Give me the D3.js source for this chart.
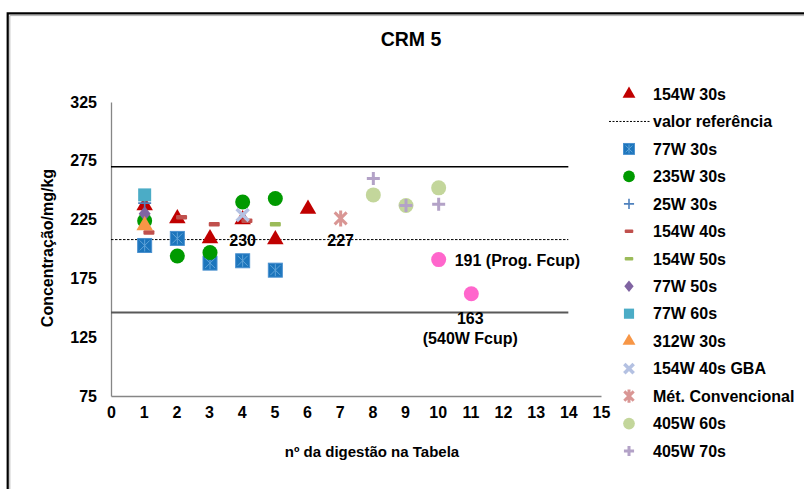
<!DOCTYPE html>
<html>
<head>
<meta charset="utf-8">
<script src="https://cdn.jsdelivr.net/npm/d3@7"></script>
<style>
    body { margin: 0; background: #fff; }
    text { font-family: 'Liberation Sans', Arial, sans-serif; font-weight: bold; fill: #000; }
</style>
</head>
<body>
<div id="chart"></div>
<script>
// ---- data ----
const xTickValues = [0, 1, 2, 3, 4, 5, 6, 7, 8, 9, 10, 11, 12, 13, 14, 15];
const yTickValues = [75, 125, 175, 225, 275, 325];

const refValue = 208;
const upperLimit = 270;
const lowerLimit = 146;
const lineSpan = [0, 14];

const s154W30s = [[1, 237], [2, 226], [3, 209], [4, 225], [5, 208], [6, 234]];
const s77W30s = [[1, 203], [2, 209], [3, 188], [4, 190], [5, 182]];
const s235W30s = [[1, 224], [2, 194], [3, 197], [4, 240], [5, 243]];
const s25W30s = [[1, 239]];
const s154W40s = [[1.13, 214], [2.13, 227], [3.13, 221], [4.13, 224]];
const s154W50s = [[5, 221]];
const s77W50s = [[1, 230]];
const s77W60s = [[1, 246]];
const s312W30s = [[1, 220]];
const s154W40sGBA = [[4, 229]];
const sMetConv = [[7, 226]];
const s405W60s = [[8, 246], [9, 237], [10, 252]];
const s405W70s = [[8, 260], [9, 237], [10, 238]];
const sFcup = [[10, 191], [11, 162]];

const pointLabels = [
    { x: 4, y: refValue, lines: ['230'] },
    { x: 7, y: refValue, lines: ['227'] },
];

// legend order = drawing order
const series = [
    { name: '154W 30s', data: s154W30s, marker: 'triangle', color: '#C00000' },
    { name: 'valor referência', data: null, marker: 'refline', color: '#000' },
    { name: '77W 30s', data: s77W30s, marker: 'boxed', color: '#1C75BC' },
    { name: '235W 30s', data: s235W30s, marker: 'circle', color: '#009A00' },
    { name: '25W 30s', data: s25W30s, marker: 'plusThin', color: '#4F81BD' },
    { name: '154W 40s', data: s154W40s, marker: 'dash', color: '#C0504D' },
    { name: '154W 50s', data: s154W50s, marker: 'dash', color: '#9BBB59' },
    { name: '77W 50s', data: s77W50s, marker: 'diamond', color: '#8064A2' },
    { name: '77W 60s', data: s77W60s, marker: 'square', color: '#4BACC6' },
    { name: '312W 30s', data: s312W30s, marker: 'triangle', color: '#F79646' },
    { name: '154W 40s GBA', data: s154W40sGBA, marker: 'x', color: '#B4C1E2' },
    { name: 'Mét. Convencional', data: sMetConv, marker: 'asterisk', color: '#D99694' },
    { name: '405W 60s', data: s405W60s, marker: 'circle', color: '#C3D69B' },
    { name: '405W 70s', data: s405W70s, marker: 'plus', color: '#B3A2C7' },
];
const extraSeries = { data: sFcup, marker: 'circle', color: '#FF66CC' };

// ---- drawing ----
const width = 804;
const height = 489;

const svg = d3.select('#chart').append('svg').attr('width', width).attr('height', height);

// frame (only top / left edges are visible in the crop)
svg.append('path').attr('d', `M7.7,${height} V13.3 H${width}`).attr('fill', 'none').attr('stroke', '#000').attr('stroke-width', 2.2);
svg.append('path').attr('d', `M9.8,${height} V15.6 H${width}`).attr('fill', 'none').attr('stroke', '#b0b0b0').attr('stroke-width', 1);

svg.append('text').attr('x', 411).attr('y', 46).attr('text-anchor', 'middle').style('font-size', '19.5px').text('CRM 5');

const x = d3.scaleLinear().domain([0, 15]).range([111, 601]);
const y = d3.scaleLinear().domain([75, 325]).range([396, 102]);

// axes
const xAxis = svg
    .append('g')
    .attr('transform', `translate(0, ${y(75)})`)
    .call(d3.axisBottom(x).tickValues(xTickValues).tickSize(0).tickPadding(11).tickFormat(d3.format('d')));
const yAxis = svg
    .append('g')
    .attr('transform', `translate(${x(0)}, 0)`)
    .call(d3.axisLeft(y).tickValues(yTickValues).tickSize(0).tickPadding(14));

[xAxis, yAxis].forEach((ax) => {
    ax.attr('font-family', null).attr('font-size', null);
    ax.select('.domain').attr('stroke', '#868686').attr('stroke-width', 1.3);
    ax.selectAll('text').style('font-size', '16px');
});

svg.append('text').attr('x', 372).attr('y', 457).attr('text-anchor', 'middle').style('font-size', '15px').text('nº da digestão na Tabela');
svg.append('text')
    .attr('transform', 'translate(53, 248) rotate(-90)')
    .attr('text-anchor', 'middle')
    .style('font-size', '16px')
    .text('Concentração/mg/kg');

// limit + reference lines
const hLines = [
    { v: upperLimit, color: '#000', w: 1.4, dash: null },
    { v: lowerLimit, color: '#595959', w: 1.8, dash: null },
    { v: refValue, color: '#000', w: 1, dash: '2.5,1.5' },
];
svg.selectAll('.hline')
    .data(hLines)
    .enter()
    .append('line')
    .attr('class', 'hline')
    .attr('x1', x(lineSpan[0]))
    .attr('x2', x(lineSpan[1]))
    .attr('y1', (d) => y(d.v))
    .attr('y2', (d) => y(d.v))
    .attr('stroke', (d) => d.color)
    .attr('stroke-width', (d) => d.w)
    .attr('stroke-dasharray', (d) => d.dash);

function drawMarker(g, type, color, k) {
    switch (type) {
        case 'triangle':
            g.append('path').attr('d', d3.symbol(d3.symbolTriangle, 118 * k * k)()).attr('fill', color);
            break;
        case 'circle':
            g.append('circle').attr('r', 7.5 * k).attr('fill', color);
            break;
        case 'square':
            g.append('rect').attr('x', -6.5 * k).attr('y', -6.5 * k).attr('width', 13 * k).attr('height', 13 * k).attr('fill', color);
            break;
        case 'boxed': {
            let s = 7 * k;
            g.append('rect').attr('x', -s).attr('y', -s).attr('width', 2 * s).attr('height', 2 * s).attr('fill', color).attr('stroke', '#4A90CF').attr('stroke-width', 1);
            g.append('path')
                .attr('d', `M${-s + 2},${-s + 2}L${s - 2},${s - 2}M${-s + 2},${s - 2}L${s - 2},${-s + 2}M0,${-s + 1}V${s - 1}`)
                .attr('stroke', '#5FA3D8')
                .attr('stroke-width', 1);
            break;
        }
        case 'diamond':
            g.append('path').attr('d', `M0,${-7.5 * k}L${6 * k},0L0,${7.5 * k}L${-6 * k},0Z`).attr('fill', color);
            break;
        case 'dash':
            g.append('rect').attr('x', -5.5 * k).attr('y', -2.3 * k).attr('width', 11 * k).attr('height', 4.6 * k).attr('rx', 1).attr('fill', color);
            break;
        case 'plus':
        case 'plusThin': {
            let s = 6.5 * k;
            g.append('path')
                .attr('d', `M${-s},0H${s}M0,${-s}V${s}`)
                .attr('stroke', color)
                .attr('stroke-width', type === 'plus' ? 3 : 1.6);
            break;
        }
        case 'x': {
            let s = 6 * k;
            g.append('path').attr('d', `M${-s},${-s}L${s},${s}M${-s},${s}L${s},${-s}`).attr('stroke', color).attr('stroke-width', 3.5);
            break;
        }
        case 'asterisk': {
            let s = 6 * k;
            g.append('path')
                .attr('d', `M${-s},${-s}L${s},${s}M${-s},${s}L${s},${-s}M0,${-s - 2}V${s + 2}`)
                .attr('stroke', color)
                .attr('stroke-width', 3);
            break;
        }
    }
}

// points
const plot = svg.append('g');
series.concat([extraSeries]).forEach((s) => {
    if (!s.data) return;
    plot.selectAll(null)
        .data(s.data)
        .enter()
        .append('g')
        .attr('transform', (d) => `translate(${x(d[0]) + 1}, ${y(d[1])})`)
        .each(function () {
            drawMarker(d3.select(this), s.marker, s.color, 1);
        });
});

// value labels
pointLabels.forEach((d) => {
    svg.append('text').attr('x', x(d.x) + 1).attr('y', y(d.y) + 6).attr('text-anchor', 'middle').style('font-size', '16px').text(d.lines[0]);
});
svg.append('text').attr('x', x(sFcup[0][0]) + 17).attr('y', y(sFcup[0][1]) + 6).style('font-size', '16px').text('191 (Prog. Fcup)');
svg.append('text')
    .attr('x', x(sFcup[1][0]))
    .attr('y', y(sFcup[1][1]) + 30)
    .attr('text-anchor', 'middle')
    .style('font-size', '16px')
    .selectAll('tspan')
    .data(['163', '(540W Fcup)'])
    .enter()
    .append('tspan')
    .attr('x', x(sFcup[1][0]))
    .attr('dy', (d, i) => (i ? 20 : 0))
    .text((d) => d);

// legend
const legendY = d3.scaleLinear().domain([0, series.length - 1]).range([94, 451]);
const legend = svg
    .selectAll('.legend')
    .data(series)
    .enter()
    .append('g')
    .attr('class', 'legend')
    .attr('transform', (d, i) => `translate(629, ${legendY(i)})`);

legend.each(function (d) {
    let g = d3.select(this);
    if (d.marker === 'refline') {
        g.append('line').attr('x1', -20).attr('x2', 21).attr('stroke', '#000').attr('stroke-width', 1).attr('stroke-dasharray', '2,1.5');
    } else {
        drawMarker(g, d.marker, d.color, 0.78);
    }
});
legend.append('text').attr('x', 24).attr('dy', '0.36em').style('font-size', '16px').text((d) => d.name);
</script>
</body>
</html>
